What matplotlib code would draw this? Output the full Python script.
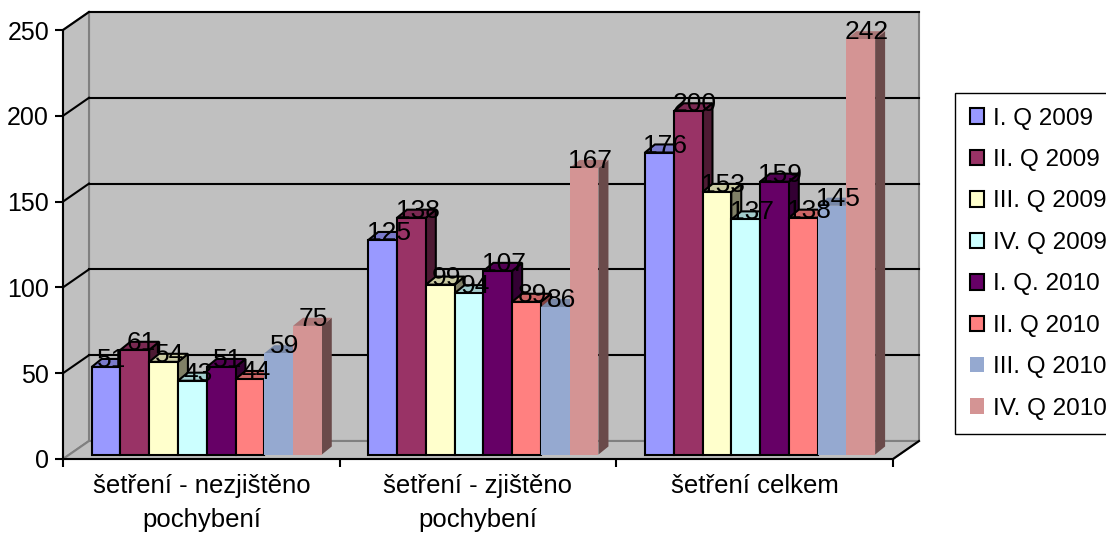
import matplotlib.pyplot as plt
from matplotlib.patches import Polygon, Patch
from matplotlib.colors import to_rgb

plt.rcParams['font.family'] = ['Liberation Sans', 'DejaVu Sans']

categories = ["šetření - nezjištěno\npochybení", "šetření - zjištěno\npochybení", "šetření celkem"]
series = ["I. Q 2009", "II. Q 2009", "III. Q 2009", "IV. Q 2009",
          "I. Q. 2010", "II. Q 2010", "III. Q 2010", "IV. Q 2010"]
values = [
    [51, 125, 176],
    [61, 138, 200],
    [54, 99, 153],
    [43, 94, 137],
    [51, 107, 159],
    [44, 89, 138],
    [59, 86, 145],
    [75, 167, 242],
]
colors = ["#9999FF", "#993366", "#FFFFCC", "#CCFFFF",
          "#660066", "#FF8080", "#95A9D0", "#D49494"]
outlined = [True, True, True, True, True, True, False, False]

WALL = "#C0C0C0"
EDGE = "#808080"

fig = plt.figure(figsize=(11.06, 5.35), dpi=100)
ax = fig.add_axes([63 / 1106, 76 / 535, 830 / 1106, 429 / 535])
ax.set_xlim(-0.5, 2.5)
ax.set_ylim(0, 250)
ax.patch.set_visible(False)

# depth of the plot box and of the columns, in data units
DX, DY = 0.094, 10.5
BX, BY = 0.036, 4.7
SX, SY = 0.0235, 2.6


def shade(c, f):
    r, g, b = to_rgb(c)
    return (r * f, g * f, b * f)


# walls and floor
x0, x1 = -0.5, 2.5
ax.add_patch(Polygon([(x0 + DX, DY), (x1 + DX, DY), (x1 + DX, 250 + DY), (x0 + DX, 250 + DY)],
                     fc=WALL, ec=EDGE, lw=1.5, clip_on=False, zorder=0))
ax.add_patch(Polygon([(x0, 0), (x0, 250), (x0 + DX, 250 + DY), (x0 + DX, DY)],
                     fc=WALL, ec=EDGE, lw=1.5, clip_on=False, zorder=0))
ax.add_patch(Polygon([(x0, 0), (x1, 0), (x1 + DX, DY), (x0 + DX, DY)],
                     fc=WALL, ec=EDGE, lw=1.5, clip_on=False, zorder=0))
ax.plot([x1, x1 + DX], [0, DY], color="black", lw=1.5, clip_on=False, zorder=1)

for y in range(50, 251, 50):
    ax.plot([x0 + DX, x1 + DX], [y + DY, y + DY], color="black", lw=1.5, clip_on=False, zorder=1)
    ax.plot([x0, x0 + DX], [y, y + DY], color="black", lw=1.5, clip_on=False, zorder=1)

# columns
w = 0.104
for i in range(len(categories)):
    for j, (name, col) in enumerate(zip(series, colors)):
        v = values[j][i]
        left = i - 0.42 + j * w + SX
        ec = "black" if outlined[j] else "none"
        lw = 1.5 if outlined[j] else 0
        z = 2 + i * 0.01 + j * 0.001
        top = SY + v
        ax.add_patch(Polygon([(left + w, SY), (left + w + BX, SY + BY), (left + w + BX, top + BY), (left + w, top)],
                             fc=shade(col, 0.5), ec=ec, lw=lw, zorder=z, joinstyle="miter"))
        ax.add_patch(Polygon([(left, top), (left + w, top), (left + w + BX, top + BY), (left + BX, top + BY)],
                             fc=shade(col, 0.8), ec=ec, lw=lw, zorder=z, joinstyle="miter"))
        ax.bar(left, v, w, bottom=SY, align="edge", color=col, edgecolor=ec, linewidth=lw, zorder=z + 0.0005)

for i in range(len(categories)):
    for j in range(len(series)):
        v = values[j][i]
        left = i - 0.42 + j * w + SX
        ax.annotate(str(v), (left + w / 2, SY + v), xytext=(6, 0), textcoords="offset pixels",
                    ha="center", va="baseline", fontsize=19, zorder=10)

# axes
for s in ["top", "right"]:
    ax.spines[s].set_visible(False)
for s in ["left", "bottom"]:
    ax.spines[s].set_linewidth(1.5)
    ax.spines[s].set_zorder(1.5)
ax.set_yticks(range(0, 251, 50))
ax.tick_params(axis="y", length=6, width=1.5, pad=4, labelsize=18)
ax.set_xticks(range(len(categories)))
ax.set_xticklabels(categories, fontsize=18.5, linespacing=1.5)
ax.tick_params(axis="x", length=0, pad=11)
ax.set_xticks([-0.5, 0.5, 1.5, 2.5], minor=True)
ax.tick_params(axis="x", which="minor", length=6, width=1.5)

handles = [Patch(fc=c, ec="black" if o else "none", lw=1.5 if o else 0) for c, o in zip(colors, outlined)]
fig.legend(handles, series, loc="upper left", bbox_to_anchor=(955 / 1106, 1 - 93 / 535),
           fontsize=17.5, frameon=True, fancybox=False, edgecolor="black", framealpha=1,
           handlelength=0.6, handleheight=0.6, handletextpad=0.35, labelspacing=0.8,
           borderpad=0.6, borderaxespad=0)

fig.savefig("out.png", dpi=100)
